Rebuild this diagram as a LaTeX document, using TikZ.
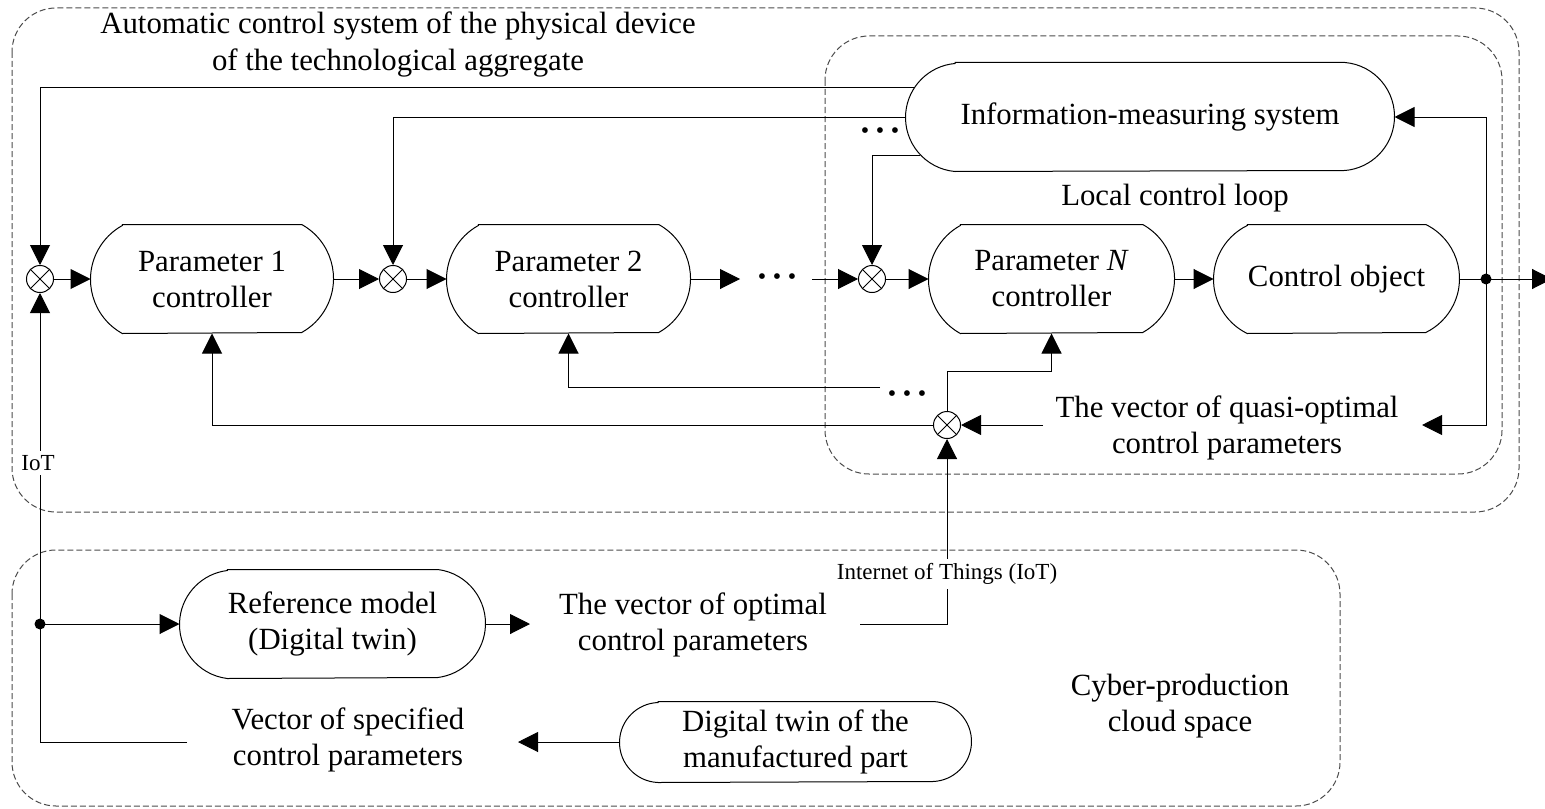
\documentclass[tikz,border=0pt]{standalone}
\usepackage{fontspec}
\setmainfont{Liberation Serif}
\usetikzlibrary{arrows.meta,calc}

% outline of a block with circular-arc ends: node, half arc angle, half height (pt)
\newcommand\pillline[3]{%
  \draw[boxline] ([xshift={#3*tan(#2/2)*1pt}]#1.north west) -- ([xshift={-#3*tan(#2/2)*1pt}]#1.north east)
    arc[start angle=#2,end angle=-#2,radius={#3/sin(#2)*1pt}]
    -- ([xshift={#3*tan(#2/2)*1pt}]#1.south west)
    arc[start angle={180+#2},end angle={180-#2},radius={#3/sin(#2)*1pt}] -- cycle;}
\newcommand\dotrow{{\fontsize{12}{12}\selectfont\textbullet\hspace{3.3pt}\textbullet\hspace{3.3pt}\textbullet}}

\begin{document}
\begin{tikzpicture}[x=0.5pt,y=-0.5pt,line width=0.5pt,
  every node/.style={font=\fontsize{15.4}{18}\selectfont,align=center,inner sep=0pt},
  blk/.style={rectangle,minimum width=#1,minimum height=54pt},
  boxline/.style={line width=0.5pt},
  arr/.style={-{Triangle[length=10pt,width=10pt]}},
  sumnode/.style={circle,draw,minimum size=13.5pt,inner sep=0pt,
    path picture={\draw (path picture bounding box.north west) -- (path picture bounding box.south east)
                        (path picture bounding box.north east) -- (path picture bounding box.south west);}},
  region/.style={draw=black!70,dash pattern=on 3pt off 1.5pt,rounded corners=22pt},
  small/.style={font=\fontsize{11.5}{13}\selectfont},
  cut/.style={fill=white,inner sep=2pt},
  dotpt/.style={circle,fill,inner sep=0pt,minimum size=5.5pt}]

\useasboundingbox (0,0) rectangle (1545,808);

% dashed regions
\draw[region] (12,8) rectangle (1519,512);
\draw[region] (825,36) rectangle (1502,474);
\draw[region] (12,550) rectangle (1340,806);

% blocks
\node[blk=121pt] (p1) at (212,279) {Parameter 1\\controller};
\node[blk=121.5pt] (p2) at (568.5,279) {Parameter 2\\controller};
\node[blk=122.5pt] (pN) at (1051.5,279) {Parameter \textit{N}\\controller};
\node[blk=122.5pt] (co) at (1336.5,279) {Control object};
\node[blk=244pt] (ims) at (1150,117) {Information-measuring system};
\node[blk=152.5pt] (ref) at (332.5,624) {Reference model\\(Digital twin)};
\node[blk=175.5pt,minimum height=40pt] (dtp) at (795.5,742) {Digital twin of the\\manufactured part};
\pillline{p1}{61}{27}
\pillline{p2}{61}{27}
\pillline{pN}{61}{27}
\pillline{co}{64}{27}
\pillline{ims}{85}{27}
\pillline{ref}{83}{27}
\pillline{dtp}{88}{20}

% summing junctions
\node[sumnode] (s1) at (40,279) {};
\node[sumnode] (s2) at (393,279) {};
\node[sumnode] (s3) at (872,279) {};
\node[sumnode] (s4) at (947,425) {};

% free ends and branch points
\coordinate (d1) at (740,279);
\coordinate (d2) at (812,279);
\coordinate (j) at (1486,279);
\coordinate (out) at (1552,279);
\coordinate (q1) at (1422,425);
\coordinate (q2) at (1043,425);
\coordinate (q3) at (880,387);
\coordinate (q4) at (860,624);
\coordinate (q5) at (187,742);
\coordinate (jr) at (40,624);
\coordinate (q6) at (530,624);
\coordinate (q7) at (518,742);

% main chain
\draw[arr] (s1) -- (p1);
\draw[arr] (p1) -- (s2);
\draw[arr] (s2) -- (p2);
\draw[arr] (p2) -- (d1);
\node (dots1) at (777,279) {\dotrow};
\draw[arr] (d2) -- (s3);
\draw[arr] (s3) -- (pN);
\draw[arr] (pN) -- (co);
\draw (co) -- (j);
\draw[arr] (j) -- (out);
\node[dotpt] at (j) {};

% measurement feedback
\draw[arr] (j) |- (ims.east);
\draw[arr] ([shift={(4pt,14.5pt)}]ims.west) -| (s1.north);
\draw[arr] (ims.west) -| (s2.north);
\draw[arr] ([shift={(7.25pt,-19pt)}]ims.west) -| (s3.north);
\node (dots2) at (880,133) {\dotrow};

% quasi-optimal parameter distribution
\draw[arr] (j) |- (q1);
\draw[arr] (q2) -- (s4);
\draw[arr] (s4.north) |- ([yshift=-19pt]pN.south) -- (pN.south);
\draw[arr] (s4.west) -| (p1.south);
\draw[arr] (q3) -| (p2.south);
\node (dots3) at (907,396) {\dotrow};

% cloud links
\draw[arr] (q4) -| (s4.south);
\node[small,cut] (iot2) at (947,574) {Internet of Things (IoT)};
\draw[arr] (q5) -| (s1.south);
\node[dotpt] at (jr) {};
\draw[arr] (jr) -- (ref);
\node[small,cut] (iot1) at (38,463) {IoT};
\draw[arr] (ref) -- (q6);
\draw[arr] (dtp) -- (q7);

% labels
\node[font=\fontsize{15.4}{18.5}\selectfont] (t1) at (398,44) {Automatic control system of the physical device\\of the technological aggregate};
\node (t2) at (1175,198) {Local control loop};
\node (t3) at (1227,428) {The vector of quasi-optimal\\control parameters};
\node (t4) at (693,625) {The vector of optimal\\control parameters};
\node (t5) at (348,740) {Vector of specified\\control parameters};
\node (t6) at (1180,706) {Cyber-production\\cloud space};
\end{tikzpicture}
\end{document}
